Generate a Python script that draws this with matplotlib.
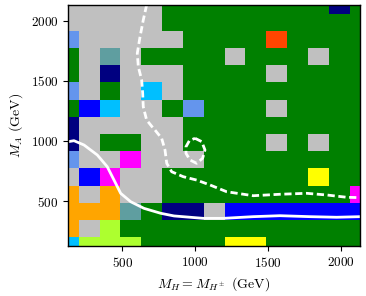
import numpy as np
import matplotlib
matplotlib.use('Agg')
import matplotlib.pyplot as plt
from matplotlib.colors import ListedColormap

plt.rcParams['font.family'] = 'serif'
plt.rcParams['font.serif'] = ['cmr10']
plt.rcParams['mathtext.fontset'] = 'cm'
plt.rcParams['axes.formatter.use_mathtext'] = True

# grid of scan points (GeV)
mH = [130, 273, 416, 559, 701, 844, 987, 1130, 1273, 1416, 1559, 1701, 1844, 1987, 2130]
mA = [130, 273, 416, 559, 701, 844, 987, 1130, 1273, 1416, 1559, 1701, 1844, 1987, 2130]

# category of each point, rows from top (mA=2130) to bottom (mA=130)
rows = [
    "SSSSSGGGGGGGGNG",
    "SSSSSGGGGGGGGGG",
    "CSSSSSGGGGRGGGG",
    "GSTSGGGGSGGGSGG",
    "GSNSSSGGGGSGGGG",
    "CSGSDSGGGGGGGGG",
    "GBDSSGCGGGSGGGG",
    "NSSSSSGGGGGGGGG",
    "NSGGSSGGGGSGSGG",
    "CSSMSSSGGGGGGGG",
    "SBMSSGGGGGGGYGG",
    "OSOSSGGGGGGGGGM",
    "OOOTGNNSBBBBBBB",
    "OSLGGGGGGGGGGGG",
    "DLLLGGGGYYGGGGG",
]
codes = "GSCTNDBRMOYL"
colors = ['green', 'silver', 'cornflowerblue', 'cadetblue', 'navy', 'deepskyblue',
          'blue', 'orangered', 'magenta', 'orange', 'yellow', 'greenyellow']

# solid contour
solid_x = [130, 169, 238, 329, 397, 443, 489, 558, 649, 764, 855, 1056, 1193, 1398, 1581, 1787, 1970, 2130]
solid_y = [995, 1003, 967, 884, 787, 677, 566, 496, 441, 400, 378, 358, 358, 372, 380, 372, 367, 372]

# dashed contour
dash_x = [667, 644, 622, 603, 610, 633, 640, 644, 667, 713, 724, 770, 793, 805, 839, 918,
          1010, 1102, 1216, 1398, 1581, 1764, 1902, 2039, 2130]
dash_y = [2130, 2005, 1867, 1729, 1618, 1507, 1397, 1285, 1175, 1106, 1092, 1023, 926, 815,
          745, 704, 676, 635, 579, 546, 558, 566, 552, 533, 530]

# dashed closed loop
loop_x = [999, 1045, 1067, 1051, 1010, 964, 937, 937, 960, 999]
loop_y = [1023, 995, 926, 857, 815, 843, 898, 953, 1003, 1023]

Z = np.array([[codes.index(c) for c in r] for r in rows[::-1]])

fig = plt.figure(figsize=(3.66, 2.96), dpi=100)
ax = fig.add_axes([0.1866, 0.1696, 0.7970, 0.8135])
ax.pcolormesh(mH, mA, Z, cmap=ListedColormap(colors), vmin=-0.5, vmax=len(colors) - 0.5,
              shading='nearest', antialiased=True)

ax.plot(solid_x, solid_y, color='white', lw=2.0)
ax.plot(dash_x, dash_y, color='white', lw=2.0, linestyle=(0, (2.6, 1.3)))
ax.plot(loop_x, loop_y, color='white', lw=2.0, linestyle=(0, (2.6, 1.3)))

ax.set_xlim(130, 2130)
ax.set_ylim(130, 2130)
ax.set_xticks([500, 1000, 1500, 2000])
ax.set_yticks([500, 1000, 1500, 2000])
ax.tick_params(labelsize=9.5, length=3.5, width=0.8)
ax.set_xlabel(r'$M_H = M_{H^\pm}$ (GeV)', fontsize=10)
ax.set_ylabel(r'$M_A$ (GeV)', fontsize=10)
for s in ax.spines.values():
    s.set_linewidth(1.0)

fig.savefig('out.png', dpi=100)
